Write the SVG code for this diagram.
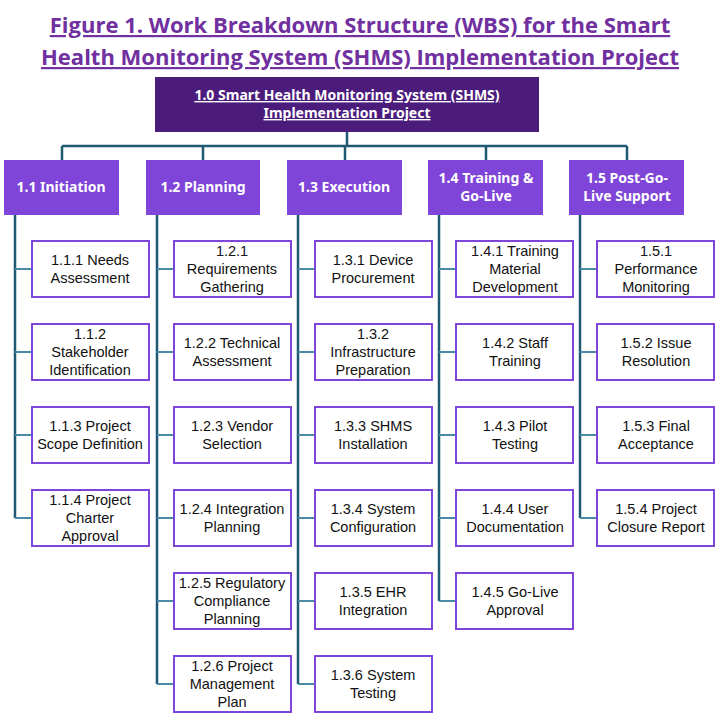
<svg xmlns="http://www.w3.org/2000/svg" width="720" height="720" viewBox="0 0 720 720">
<style>
.t{font-family:"Open Sans","Liberation Sans",sans-serif;font-weight:bold;fill:#7030a0;font-size:22px;text-decoration:underline;text-anchor:middle}
.r{fill:#4b1c7c}
.rt{font-family:"Noto Sans","Liberation Sans",sans-serif;font-weight:bold;fill:#fff;font-size:14px;text-decoration:underline;text-anchor:middle}
.l1{fill:#7f44d8}
.l1t{font-family:"Noto Sans","Liberation Sans",sans-serif;font-weight:bold;fill:#fff;font-size:14px;text-anchor:middle}
.c{fill:#fff;stroke:#7f44d8;stroke-width:2}
.ct{font-family:"Liberation Sans",Arial,sans-serif;fill:#111;font-size:14.5px;text-anchor:middle}
.k{fill:none;stroke:#1f5a72;stroke-width:2.5}
.k2{fill:none;stroke:#4a8aa6;stroke-width:2}
</style>
<text class="t" x="360" y="33">Figure 1. Work Breakdown Structure (WBS) for the Smart</text>
<text class="t" x="360" y="65">Health Monitoring System (SHMS) Implementation Project</text>
<g id="connectors">
<path class="k" d="M347 132V146M62 146H627M62 146V160M203 146V160M345 146V160M486 146V160M627 146V160"/>
<path class="k" d="M15 215V518M157 215V684M298 215V684M439 215V601M580 215V518"/>
<path class="k2" d="M15 269H32M15 352H32M15 435H32M15 518H32"/>
<path class="k2" d="M157 269H174M157 352H174M157 435H174M157 518H174M157 601H174M157 684H174"/>
<path class="k2" d="M298 269H315M298 352H315M298 435H315M298 518H315M298 601H315M298 684H315"/>
<path class="k2" d="M439 269H456M439 352H456M439 435H456M439 518H456M439 601H456"/>
<path class="k2" d="M580 269H597M580 352H597M580 435H597M580 518H597"/>
</g>
<g id="root"><rect class="r" x="155" y="77" width="384" height="55"/><text class="rt" x="347" y="100">1.0 Smart Health Monitoring System (SHMS)</text><text class="rt" x="347" y="118">Implementation Project</text></g>
<g id="n1_1"><rect class="l1" x="4" y="160" width="115" height="55"/><text class="l1t" x="61" y="192">1.1 Initiation</text></g>
<g id="n1_2"><rect class="l1" x="146" y="160" width="114" height="55"/><text class="l1t" x="203" y="192">1.2 Planning</text></g>
<g id="n1_3"><rect class="l1" x="287" y="160" width="115" height="55"/><text class="l1t" x="344" y="192">1.3 Execution</text></g>
<g id="n1_4"><rect class="l1" x="428" y="160" width="115" height="55"/><text class="l1t" x="486" y="183">1.4 Training &amp;</text><text class="l1t" x="486" y="201">Go-Live</text></g>
<g id="n1_5"><rect class="l1" x="569" y="160" width="115" height="55"/><text class="l1t" x="627" y="183">1.5 Post-Go-</text><text class="l1t" x="627" y="201">Live Support</text></g>

<g id="n1_1_1"><rect class="c" x="32" y="241" width="117" height="56"/><text class="ct" x="90" y="265">1.1.1 Needs</text><text class="ct" x="90" y="283">Assessment</text></g>
<g id="n1_1_2"><rect class="c" x="32" y="324" width="117" height="56"/><text class="ct" x="90" y="339">1.1.2</text><text class="ct" x="90" y="357">Stakeholder</text><text class="ct" x="90" y="375">Identification</text></g>
<g id="n1_1_3"><rect class="c" x="32" y="407" width="117" height="56"/><text class="ct" x="90" y="431">1.1.3 Project</text><text class="ct" x="90" y="449">Scope Definition</text></g>
<g id="n1_1_4"><rect class="c" x="32" y="490" width="117" height="56"/><text class="ct" x="90" y="505">1.1.4 Project</text><text class="ct" x="90" y="523">Charter</text><text class="ct" x="90" y="541">Approval</text></g>

<g id="n1_2_1"><rect class="c" x="174" y="241" width="117" height="56"/><text class="ct" x="232" y="256">1.2.1</text><text class="ct" x="232" y="274">Requirements</text><text class="ct" x="232" y="292">Gathering</text></g>
<g id="n1_2_2"><rect class="c" x="174" y="324" width="117" height="56"/><text class="ct" x="232" y="348">1.2.2 Technical</text><text class="ct" x="232" y="366">Assessment</text></g>
<g id="n1_2_3"><rect class="c" x="174" y="407" width="117" height="56"/><text class="ct" x="232" y="431">1.2.3 Vendor</text><text class="ct" x="232" y="449">Selection</text></g>
<g id="n1_2_4"><rect class="c" x="174" y="490" width="117" height="56"/><text class="ct" x="232" y="514">1.2.4 Integration</text><text class="ct" x="232" y="532">Planning</text></g>
<g id="n1_2_5"><rect class="c" x="174" y="573" width="117" height="56"/><text class="ct" x="232" y="588">1.2.5 Regulatory</text><text class="ct" x="232" y="606">Compliance</text><text class="ct" x="232" y="624">Planning</text></g>
<g id="n1_2_6"><rect class="c" x="174" y="656" width="117" height="56"/><text class="ct" x="232" y="671">1.2.6 Project</text><text class="ct" x="232" y="689">Management</text><text class="ct" x="232" y="707">Plan</text></g>

<g id="n1_3_1"><rect class="c" x="315" y="241" width="117" height="56"/><text class="ct" x="373" y="265">1.3.1 Device</text><text class="ct" x="373" y="283">Procurement</text></g>
<g id="n1_3_2"><rect class="c" x="315" y="324" width="117" height="56"/><text class="ct" x="373" y="339">1.3.2</text><text class="ct" x="373" y="357">Infrastructure</text><text class="ct" x="373" y="375">Preparation</text></g>
<g id="n1_3_3"><rect class="c" x="315" y="407" width="117" height="56"/><text class="ct" x="373" y="431">1.3.3 SHMS</text><text class="ct" x="373" y="449">Installation</text></g>
<g id="n1_3_4"><rect class="c" x="315" y="490" width="117" height="56"/><text class="ct" x="373" y="514">1.3.4 System</text><text class="ct" x="373" y="532">Configuration</text></g>
<g id="n1_3_5"><rect class="c" x="315" y="573" width="117" height="56"/><text class="ct" x="373" y="597">1.3.5 EHR</text><text class="ct" x="373" y="615">Integration</text></g>
<g id="n1_3_6"><rect class="c" x="315" y="656" width="117" height="56"/><text class="ct" x="373" y="680">1.3.6 System</text><text class="ct" x="373" y="698">Testing</text></g>

<g id="n1_4_1"><rect class="c" x="456" y="241" width="117" height="56"/><text class="ct" x="515" y="256">1.4.1 Training</text><text class="ct" x="515" y="274">Material</text><text class="ct" x="515" y="292">Development</text></g>
<g id="n1_4_2"><rect class="c" x="456" y="324" width="117" height="56"/><text class="ct" x="515" y="348">1.4.2 Staff</text><text class="ct" x="515" y="366">Training</text></g>
<g id="n1_4_3"><rect class="c" x="456" y="407" width="117" height="56"/><text class="ct" x="515" y="431">1.4.3 Pilot</text><text class="ct" x="515" y="449">Testing</text></g>
<g id="n1_4_4"><rect class="c" x="456" y="490" width="117" height="56"/><text class="ct" x="515" y="514">1.4.4 User</text><text class="ct" x="515" y="532">Documentation</text></g>
<g id="n1_4_5"><rect class="c" x="456" y="573" width="117" height="56"/><text class="ct" x="515" y="597">1.4.5 Go-Live</text><text class="ct" x="515" y="615">Approval</text></g>

<g id="n1_5_1"><rect class="c" x="597" y="241" width="117" height="56"/><text class="ct" x="656" y="256">1.5.1</text><text class="ct" x="656" y="274">Performance</text><text class="ct" x="656" y="292">Monitoring</text></g>
<g id="n1_5_2"><rect class="c" x="597" y="324" width="117" height="56"/><text class="ct" x="656" y="348">1.5.2 Issue</text><text class="ct" x="656" y="366">Resolution</text></g>
<g id="n1_5_3"><rect class="c" x="597" y="407" width="117" height="56"/><text class="ct" x="656" y="431">1.5.3 Final</text><text class="ct" x="656" y="449">Acceptance</text></g>
<g id="n1_5_4"><rect class="c" x="597" y="490" width="117" height="56"/><text class="ct" x="656" y="514">1.5.4 Project</text><text class="ct" x="656" y="532">Closure Report</text></g>
</svg>
